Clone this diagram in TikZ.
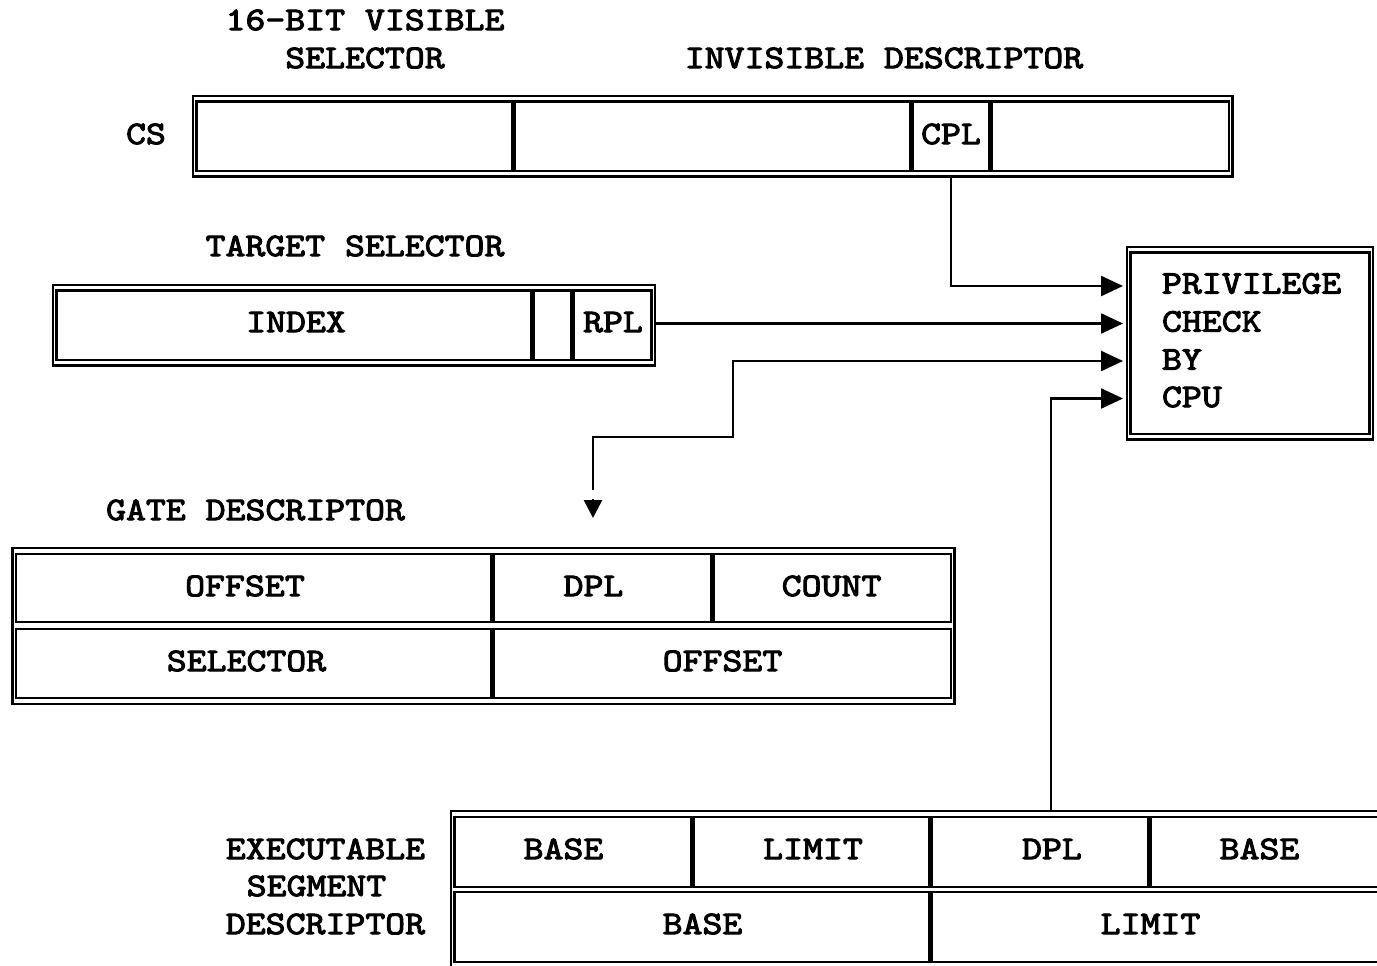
\documentclass[tikz,border=0pt]{standalone}
\usetikzlibrary{arrows.meta,calc}
\font\pixfnt="[lmmono10-regular]:embolden=3;extend=1.15" at 33pt
\newcommand{\px}[1]{#1}
\tikzset{
  frame/.style={draw, line width=2.4pt, inner sep=0pt, outer sep=0pt},
  cell/.style={draw, line width=2.4pt, inner sep=0pt, outer sep=0pt},
  txt/.style={inner sep=0pt, outer sep=0pt, text height=20.2pt, text depth=0pt,
    font=\pixfnt},
  conn/.style={line width=2.4pt},
  arrow/.style={conn, -{Triangle[length=22pt,width=20pt]}, shorten >=4pt},
}
\begin{document}
\begin{tikzpicture}[x=1pt,y=-1pt]
\useasboundingbox (0,0) rectangle (1377,966);
\clip (0,0) rectangle (1377,966);

% ---------- CS register ----------
\node[frame, minimum width=1039.5pt, minimum height=80.5pt] (csbox) at (712.75,136.25) {};
\node[cell, minimum width=316pt, minimum height=69.5pt] (csv) at (354.5,136.25) {};
\node[cell, minimum width=395.5pt, minimum height=69.5pt] (csi) at (712.75,136.25) {};
\node[cell, minimum width=76.5pt, minimum height=69.5pt] (cpl) at (951.25,136.25) {};
\node[cell, minimum width=237pt, minimum height=69.5pt] (csr) at (1110.5,136.25) {};

% ---------- target selector ----------
\node[frame, minimum width=602pt, minimum height=80.5pt] (tgtbox) at (354,325.25) {};
\node[cell, minimum width=474.5pt, minimum height=69.5pt] (index) at (293.75,325.25) {};
\node[cell, minimum width=38pt, minimum height=69.5pt] (ti) at (552.5,325.25) {};
\node[cell, minimum width=77.5pt, minimum height=69.5pt] (rpl) at (612.75,325.25) {};

% ---------- privilege check ----------
\node[frame, minimum width=246pt, minimum height=192.5pt] (priv) at (1250,343.25) {};
\node[cell, minimum width=239pt, minimum height=181.5pt] (privin) at (1250,343.25) {};

% ---------- gate descriptor ----------
\node[frame, minimum width=942pt, minimum height=156pt] (gatebox) at (483.5,626) {};
\node[cell, minimum width=475.5pt, minimum height=68pt] (goff1) at (253.75,588) {};
\node[cell, minimum width=217pt, minimum height=68pt] (gdpl) at (602.5,588) {};
\node[cell, minimum width=237.5pt, minimum height=68pt] (gcount) at (832.25,588) {};
\node[cell, minimum width=475.5pt, minimum height=69pt] (gsel) at (253.75,663.5) {};
\node[cell, minimum width=457pt, minimum height=69pt] (goff2) at (722.5,663.5) {};

% ---------- executable segment descriptor ----------
\node[frame, minimum width=979pt, minimum height=157pt] (execbox) at (940.5,889.5) {};
\node[cell, minimum width=237pt, minimum height=70pt] (ebase1) at (573,852) {};
\node[cell, minimum width=235.5pt, minimum height=70pt] (elim1) at (811.75,852) {};
\node[cell, minimum width=216pt, minimum height=70pt] (edpl) at (1040,852) {};
\node[cell, minimum width=275.5pt, minimum height=70pt] (ebase2) at (1288.25,852) {};
\node[cell, minimum width=475pt, minimum height=70pt] (ebase3) at (692,927) {};
\node[cell, minimum width=494pt, minimum height=70pt] (elim2) at (1179,927) {};

% ---------- texts ----------
\node[txt] (t16) at (365,20) {\px{16-BIT VISIBLE}};
\node[txt] (tsel) at (365,58) {\px{SELECTOR}};
\node[txt] (tinv) at (884,58) {\px{INVISIBLE DESCRIPTOR}};
\node[txt] (tcs) at (146,134) {\px{CS}};
\node[txt] (tcpl) at (951,134) {\px{CPL}};
\node[txt] (ttgt) at (355,246) {\px{TARGET SELECTOR}};
\node[txt] (tindex) at (296,322) {\px{INDEX}};
\node[txt] (trpl) at (613,322) {\px{RPL}};
\node[txt, anchor=west] (tp1) at (1162,283.5) {\px{PRIVILEGE}};
\node[txt, anchor=west] (tp2) at (1162,321.5) {\px{CHECK}};
\node[txt, anchor=west] (tp3) at (1162,359.5) {\px{BY}};
\node[txt, anchor=west] (tp4) at (1162,397) {\px{CPU}};
\node[txt] (tgate) at (255.5,510) {\px{GATE DESCRIPTOR}};
\node[txt] (tgoff1) at (245,586) {\px{OFFSET}};
\node[txt] (tgdpl) at (593.5,586) {\px{DPL}};
\node[txt] (tgcount) at (831.5,586) {\px{COUNT}};
\node[txt] (tgsel) at (246.5,661) {\px{SELECTOR}};
\node[txt] (tgoff2) at (722.5,661) {\px{OFFSET}};
\node[txt] (tex1) at (325.5,849) {\px{EXECUTABLE}};
\node[txt] (tex2) at (316.5,886) {\px{SEGMENT}};
\node[txt] (tex3) at (325.5,924) {\px{DESCRIPTOR}};
\node[txt] (tebase1) at (563.5,849) {\px{BASE}};
\node[txt] (telim1) at (813,849) {\px{LIMIT}};
\node[txt] (tedpl) at (1052,849) {\px{DPL}};
\node[txt] (tebase2) at (1259.5,849) {\px{BASE}};
\node[txt] (tebase3) at (702.5,924) {\px{BASE}};
\node[txt] (telim2) at (1150.5,924) {\px{LIMIT}};

% ---------- connectors ----------
\coordinate (p1) at ($(priv.west)+(0,-57.25)$);
\coordinate (p2) at ($(priv.west)+(0,-19.75)$);
\coordinate (p3) at ($(priv.west)+(0,17.75)$);
\coordinate (p4) at ($(priv.west)+(0,55.25)$);
\coordinate (g1) at (593,490);
\coordinate (k1) at (733,437);
\coordinate (g2) at (593,499);
\coordinate (g3) at (593,518);
\coordinate (ex) at (1051,0);

\draw[arrow] (cpl |- csbox.south) |- (p1);
\draw[arrow] (tgtbox.east |- p2) -- (p2);
\draw[arrow] (g1) |- (k1) |- (p3);
\draw[conn, -{Triangle[length=18pt,width=18pt]}] (g2) -- (g3);
\draw[arrow] (ex |- execbox.north) |- (p4);
\end{tikzpicture}
\end{document}
